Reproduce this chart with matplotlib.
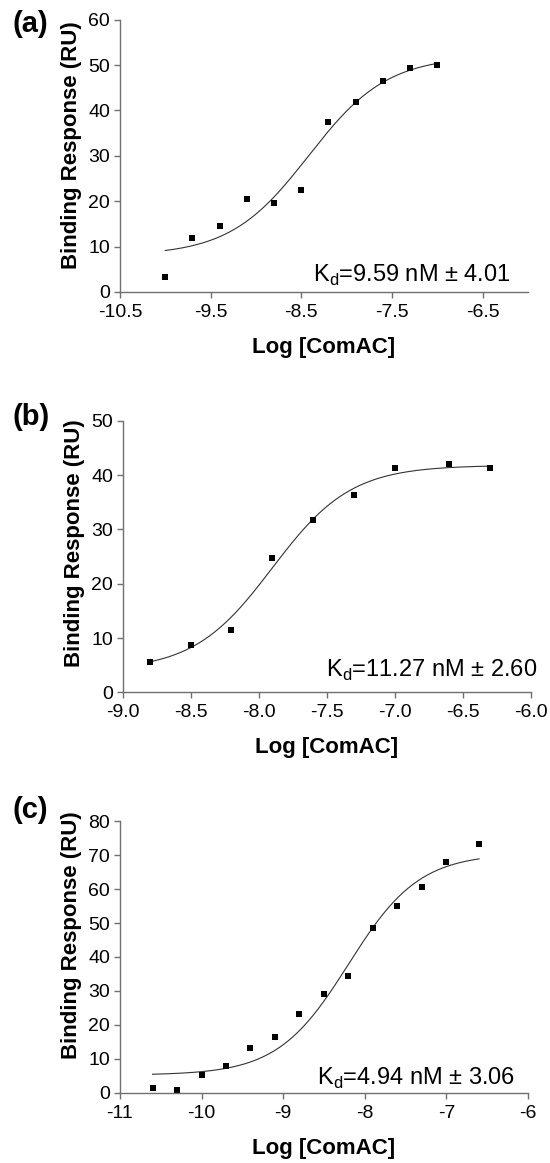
import numpy as np
import matplotlib
matplotlib.use('Agg')
import matplotlib.pyplot as plt

plt.rcParams['font.family'] = ['Liberation Sans', 'DejaVu Sans']
plt.rcParams['mathtext.fontset'] = 'custom'
plt.rcParams['mathtext.rm'] = 'Liberation Sans'
plt.rcParams['axes.unicode_minus'] = False

# Panel (a) data
a_x = [-10.0, -9.7, -9.4, -9.1, -8.8, -8.5, -8.2, -7.9, -7.6, -7.3, -7.0]
a_y = [3.2, 11.8, 14.6, 20.4, 19.6, 22.5, 37.4, 41.8, 46.5, 49.3, 50.0]
a_fit = (8.0, 52.0, -8.42, 1.0)   # bottom, top, logEC50, hill
a_kd = r'K$_{\mathrm{d}}$=9.59 nM ± 4.01'

# Panel (b) data
b_x = [-8.8, -8.5, -8.2, -7.9, -7.6, -7.3, -7.0, -6.6, -6.3]
b_y = [5.6, 8.7, 11.5, 24.8, 31.8, 36.3, 41.3, 42.0, 41.3]
b_fit = (4.0, 41.8, -7.9, 1.5)
b_kd = r'K$_{\mathrm{d}}$=11.27 nM ± 2.60'

# Panel (c) data
c_x = [-10.6, -10.3, -10.0, -9.7, -9.4, -9.1, -8.8, -8.5, -8.2, -7.9, -7.6, -7.3, -7.0, -6.6]
c_y = [1.4, 0.9, 5.3, 7.8, 13.3, 16.3, 23.2, 29.1, 34.5, 48.4, 55.0, 60.5, 68.1, 73.3]
c_fit = (5.2, 70.5, -8.2, 1.0)
c_kd = r'K$_{\mathrm{d}}$=4.94 nM ± 3.06'


def hill(x, bottom, top, logec50, h):
    return bottom + (top - bottom) / (1 + 10 ** ((logec50 - x) * h))


fig = plt.figure(figsize=(5.5, 11.63), dpi=100)

panels = [
    # rect, x, y, fit, kd, xlim, xticks, xfmt, ylim, kd pos, ylabel y, panel label
    ([0.218, 0.749, 0.742, 0.234], a_x, a_y, a_fit, a_kd, (-10.5, -6.0),
     np.arange(-10.5, -6.0, 1.0), '{:.1f}', 60, (0.958, 0.038), 0.54, '(a)', 0.9914),
    ([0.223, 0.4047, 0.742, 0.2335], b_x, b_y, b_fit, b_kd, (-9.0, -6.0),
     np.arange(-9.0, -5.99, 0.5), '{:.1f}', 50, (1.015, 0.057), 0.55, '(b)', 0.6535),
    ([0.218, 0.0604, 0.742, 0.2335], c_x, c_y, c_fit, c_kd, (-11, -6),
     np.arange(-11, -5.99, 1.0), '{:.0f}', 80, (0.968, 0.031), 0.58, '(c)', 0.3156),
]

spine_col = '#707070'
for rect, xs, ys, fit, kd, xlim, xticks, xfmt, ytop, kdpos, ylab_y, plabel, ptop in panels:
    ax = fig.add_axes(rect)
    xx = np.linspace(xs[0], xs[-1], 200)
    ax.plot(xx, hill(xx, *fit), color='#333333', lw=0.8)
    ax.plot(xs, ys, 's', color='black', ms=5, mew=0)

    ax.set_xlim(*xlim)
    ax.set_ylim(0, ytop)
    ax.set_xticks(xticks)
    ax.set_xticklabels([xfmt.format(v) for v in xticks])
    ax.set_yticks(np.arange(0, ytop + 1, 10))

    for side in ('top', 'right'):
        ax.spines[side].set_visible(False)
    for side in ('left', 'bottom'):
        ax.spines[side].set_color(spine_col)
        ax.spines[side].set_linewidth(1.0)
    ax.tick_params(direction='out', length=4.5, width=1.0, color=spine_col,
                   labelsize=14, labelcolor='black')
    ax.tick_params(axis='x', pad=4)
    ax.tick_params(axis='y', pad=2.5)

    ax.set_ylabel('Binding Response (RU)', fontsize=16, fontweight='bold', va='center')
    ax.yaxis.set_label_coords(-0.118, ylab_y)
    ax.set_xlabel('Log [ComAC]', fontsize=16, fontweight='bold', va='baseline')
    ax.xaxis.set_label_coords(0.5, -0.224)

    ax.text(kdpos[0], kdpos[1], kd, transform=ax.transAxes, ha='right',
            va='baseline', fontsize=17)

    fig.text(0.0236, ptop, plabel, fontsize=21, fontweight='bold', ha='left', va='top')

fig.savefig('out.png', dpi=100)
